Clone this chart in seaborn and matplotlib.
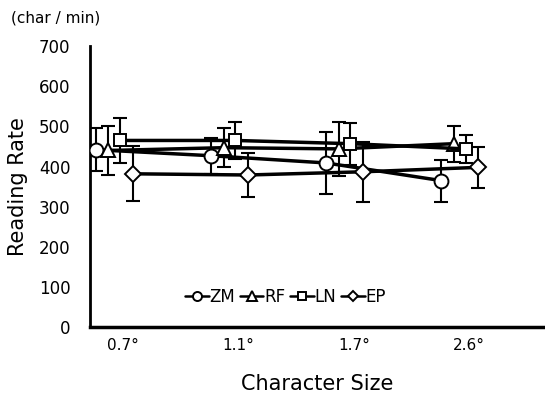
import numpy as np
import pandas as pd
import matplotlib
matplotlib.use("Agg")
import matplotlib.pyplot as plt
import seaborn as sns

sizes = ["0.7°", "1.1°", "1.7°", "2.6°"]
series = ["ZM", "RF", "LN", "EP"]
zm = [442, 427, 409, 365]
rf = [440, 447, 444, 457]
ln = [465, 465, 457, 444]
ep = [382, 379, 387, 398]
zm_err = [54, 45, 78, 52]
rf_err = [62, 48, 68, 45]
ln_err = [55, 47, 52, 35]
ep_err = [68, 55, 75, 51]

offsets = {"ZM": -0.24, "RF": -0.13, "LN": -0.03, "EP": 0.08}
markers = {"ZM": "o", "RF": "^", "LN": "s", "EP": "D"}
msizes = {"ZM": 10, "RF": 10, "LN": 9, "EP": 8}

rows = []
for name, vals, errs in [("ZM", zm, zm_err), ("RF", rf, rf_err),
                         ("LN", ln, ln_err), ("EP", ep, ep_err)]:
    for i, (v, e) in enumerate(zip(vals, errs)):
        rows.append({"series": name, "x": i + offsets[name], "rate": v, "err": e})
df = pd.DataFrame(rows)

sns.set_style("white")
plt.rcParams['font.family'] = ['DejaVu Sans']
plt.rcParams['text.color'] = 'black'
plt.rcParams['axes.labelcolor'] = 'black'
plt.rcParams['xtick.color'] = 'black'
plt.rcParams['ytick.color'] = 'black'

fig = plt.figure(figsize=(5.45, 4.04), dpi=100)
ax = fig.add_axes([0.165, 0.19, 0.835, 0.696])

for name in series:
    d = df[df.series == name]
    ax.errorbar(d.x, d.rate, yerr=d.err, fmt="none", ecolor="black",
                elinewidth=1.5, capsize=5, capthick=1.5, zorder=1)

for name in series:
    d = df[df.series == name]
    sns.lineplot(x=d.x, y=d.rate, ax=ax, color="black", lw=2.5,
                 marker=markers[name], markersize=msizes[name],
                 markerfacecolor="white", markeredgecolor="black",
                 markeredgewidth=1.4, label=name, zorder=3)

ax.set_xlim(-0.29, 3.66)
ax.set_ylim(0, 700)
ax.set_yticks(range(0, 701, 100))
ax.set_xticks(range(4))
ax.set_xticklabels(sizes, fontsize=11)
ax.tick_params(axis="y", labelsize=12, length=0, pad=14)
ax.tick_params(axis="x", length=0, pad=8)
ax.spines["top"].set_visible(False)
ax.spines["right"].set_visible(False)
ax.spines["left"].set_linewidth(2)
ax.spines["bottom"].set_linewidth(2.5)
ax.spines["left"].set_color("black")
ax.spines["bottom"].set_color("black")

ax.set_xlabel("Character Size", fontsize=15, labelpad=15)
ax.set_ylabel("Reading Rate", fontsize=15, labelpad=8)
fig.text(0.02, 0.955, "(char / min)", fontsize=11, ha="left", va="center")

leg = ax.legend(ncol=4, loc="center", bbox_to_anchor=(0.43, 0.107),
                frameon=False, fontsize=12, handlelength=1.4,
                columnspacing=0.3, handletextpad=0.05, markerscale=0.65)
for h in leg.legend_handles:
    h.set_linewidth(1.8)

fig.savefig("out.png", dpi=100)
